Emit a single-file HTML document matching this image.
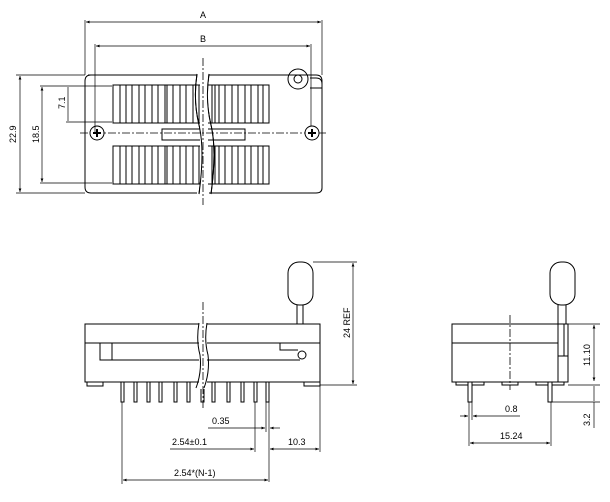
<!DOCTYPE html>
<html><head><style>html,body{margin:0;padding:0;background:#fff}svg{display:block}text{font-family:"Liberation Sans",sans-serif;font-size:9px;fill:#000}</style></head>
<body>
<svg width="610" height="502" viewBox="0 0 610 502" xmlns="http://www.w3.org/2000/svg" fill="none" stroke="#000" stroke-width="1">
<defs><marker id="a" markerWidth="6" markerHeight="6" refX="5" refY="3" orient="auto-start-reverse"><path d="M0,1 L5,3 L0,5" fill="#000" stroke="none"/></marker></defs>
<!-- TOP VIEW -->
<path d="M88,75 H197 M209,75 H316 Q322,75 322,81 V188 Q322,193 316,193 H209 M197,193 H91 Q85,193 85,187 V81 Q85,75 91,75"/>
<path d="M310,78 H316 Q322,78 322,84 M310,88 H322"/>
<circle cx="298" cy="79" r="10"/><circle cx="298" cy="79" r="4"/>
<g id="comb">
<rect x="113" y="85" width="156" height="38"/>
<path d="M120,85V123M126,85V123M132,85V123M139,85V123M145,85V123M152,85V123M158,85V123M165,85V123M167,85V123M173,85V123M180,85V123M186,85V123M193,85V123M199,85V123M206,85V123M212,85V123M215,85V123M219,85V123M225,85V123M232,85V123M238,85V123M245,85V123M251,85V123M258,85V123M263,85V123"/>
</g>
<use href="#comb" y="61"/>
<rect x="162" y="129" width="83" height="11"/>
<path d="M197,74 Q193,100 199,125 Q205,150 199,194 M209,74 Q205,100 211,125 Q217,150 211,194" stroke="#000" fill="none"/>
<path d="M199,73 V195" stroke="#fff" stroke-width="0"/>
<rect x="200" y="74" width="8" height="121" fill="#fff" stroke="none" transform="skewX(0)"/>
<path d="M197,74 Q193,100 199,125 Q205,150 199,194 M209,74 Q205,100 211,125 Q217,150 211,194"/>
<path d="M203,58 V205" stroke-dasharray="8,2,2,2" stroke-width="0.8"/>
<path d="M80,133 H328" stroke-dasharray="8,2,2,2" stroke-width="0.8"/>
<circle cx="97" cy="133" r="7" fill="#fff"/><path d="M93,133H101M97,129V137" stroke-width="2"/>
<circle cx="312" cy="133" r="7" fill="#fff"/><path d="M308,133H316M312,129V137" stroke-width="2"/>
<!-- dims top -->
<path d="M85,20 V75 M322,20 V75" stroke-width="0.7"/>
<path d="M86,22 H321" stroke-width="0.7" marker-start="url(#a)" marker-end="url(#a)"/>
<text x="200" y="18" stroke="none">A</text>
<path d="M95,44 V133 M311,44 V126" stroke-width="0.7"/>
<path d="M96,46 H310" stroke-width="0.7" marker-start="url(#a)" marker-end="url(#a)"/>
<text x="200" y="42" stroke="none">B</text>
<path d="M16,75 H85 M16,193 H85 M40,86 H112 M40,183 H112 M66,122 H112" stroke-width="0.7"/>
<path d="M20,76 V192" stroke-width="0.7" marker-start="url(#a)" marker-end="url(#a)"/>
<path d="M42,87 V182" stroke-width="0.7" marker-start="url(#a)" marker-end="url(#a)"/>
<path d="M68,87 V121" stroke-width="0.7"/>
<text transform="translate(16,143) rotate(-90)" stroke="none">22.9</text>
<text transform="translate(39,143) rotate(-90)" stroke="none">18.5</text>
<text transform="translate(65,109) rotate(-90)" stroke="none">7.1</text>
<!-- FRONT VIEW -->
<rect x="288" y="262" width="25" height="43" rx="11"/>
<path d="M297,305V324M303,305V324"/>
<rect x="85" y="324" width="235" height="58"/>
<path d="M85,343H320"/>
<path d="M100,343V360H300M112,343V360M280,343V350H298"/>
<circle cx="302" cy="355" r="4"/>
<path d="M87,382V386H103V382M304,382V386H320V382"/>
<g fill="#fff">
<rect x="121" y="382" width="3" height="20"/><rect x="134" y="382" width="3" height="20"/><rect x="147" y="382" width="3" height="20"/><rect x="159" y="382" width="3" height="20"/><rect x="174" y="382" width="3" height="20"/><rect x="187" y="382" width="3" height="20"/><rect x="201" y="382" width="3" height="20"/><rect x="212" y="382" width="3" height="20"/><rect x="227" y="382" width="3" height="20"/><rect x="241" y="382" width="3" height="20"/><rect x="254" y="382" width="3" height="20"/><rect x="266" y="382" width="3" height="20"/>
</g>
<rect x="199" y="323" width="8" height="66" fill="#fff" stroke="none"/>
<path d="M199,323 Q196,340 200,355 Q202,372 196,388 M207,323 Q204,340 208,355 Q210,372 204,388"/>
<path d="M203,302 V408" stroke-dasharray="8,2,2,2" stroke-width="0.8"/>
<path d="M313,262H357M320,385H357" stroke-width="0.7"/>
<path d="M353,263V384" stroke-width="0.7" marker-start="url(#a)" marker-end="url(#a)"/>
<text transform="translate(350,338) rotate(-90)" stroke="none">24 REF</text>
<path d="M266,402V432M269,402V482M255,402V452M122,402V484M320,386V452" stroke-width="0.7"/>
<path d="M208,428H265" stroke-width="0.7" marker-end="url(#a)"/>
<path d="M280,428H270" stroke-width="0.7" marker-end="url(#a)"/>
<text x="212" y="424" stroke="none">0.35</text>
<path d="M170,449H254" stroke-width="0.7" marker-end="url(#a)"/>
<text x="172" y="445" stroke="none">2.54±0.1</text>
<path d="M270,449H319" stroke-width="0.7" marker-start="url(#a)" marker-end="url(#a)"/>
<text x="288" y="445" stroke="none">10.3</text>
<path d="M123,480H268" stroke-width="0.7" marker-start="url(#a)" marker-end="url(#a)"/>
<text x="174" y="476" stroke="none">2.54*(N-1)</text>
<!-- SIDE VIEW -->
<rect x="550" y="262" width="25" height="43" rx="11"/>
<path d="M558,305V324M566,305V324"/>
<rect x="452" y="324" width="116" height="58"/>
<path d="M452,343H558M558,324V382M558,356H568M564,324V356"/>
<path d="M456,382V385H484V382M502,382V385H518V382M536,382V385H564V382"/>
<rect x="468" y="382" width="4" height="20" fill="#fff"/><rect x="548" y="382" width="4" height="20" fill="#fff"/>
<path d="M510,315V390" stroke-dasharray="8,2,2,2" stroke-width="0.8"/>
<path d="M568,324H600M568,385H600M552,402H600" stroke-width="0.7"/>
<path d="M594,325V381" stroke-width="0.7" marker-start="url(#a)" marker-end="url(#a)"/>
<path d="M594,386V401" stroke-width="0.7"/>
<path d="M594,402V428" stroke-width="0.7"/>
<text transform="translate(590,366) rotate(-90)" stroke="none">11.10</text>
<text transform="translate(590,426) rotate(-90)" stroke="none">3.2</text>
<path d="M469,402V446M472,402V420M551,402V446" stroke-width="0.7"/>
<path d="M460,416H468" stroke-width="0.7" marker-end="url(#a)"/>
<path d="M520,416H473" stroke-width="0.7" marker-end="url(#a)"/>
<text x="505" y="412" stroke="none">0.8</text>
<path d="M470,443H550" stroke-width="0.7" marker-start="url(#a)" marker-end="url(#a)"/>
<text x="500" y="439" stroke="none">15.24</text>
</svg>
</body></html>
